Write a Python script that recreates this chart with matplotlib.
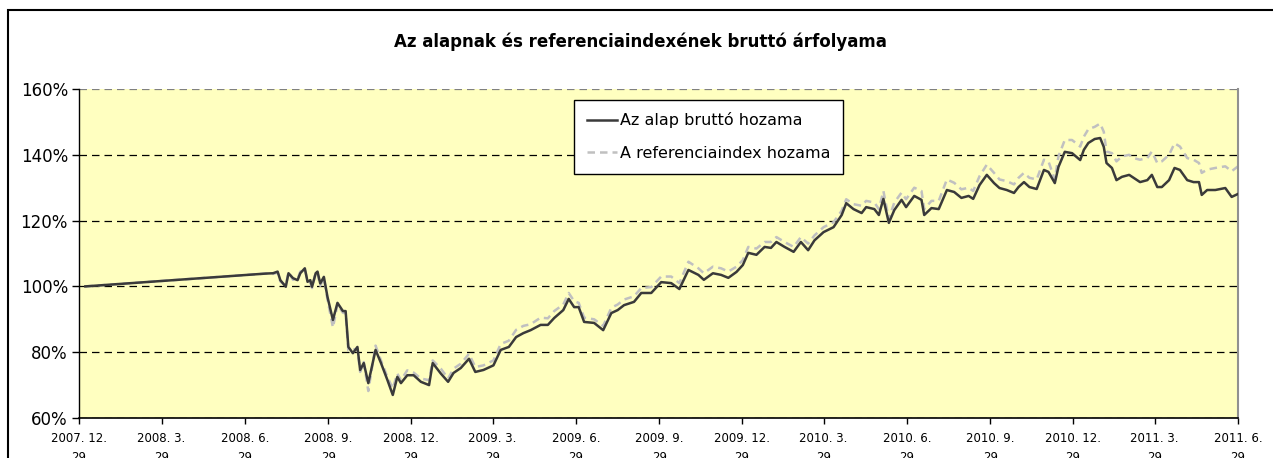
import matplotlib
matplotlib.use("Agg")
import matplotlib.pyplot as plt
from matplotlib.patches import Rectangle
import numpy as np
import pandas as pd


start_date = "2007-12-29"

# days since start date
days = [7, 206, 214, 219, 222, 228, 231, 236, 241, 244, 249, 252, 255, 257, 261, 263, 266, 270,
        274, 280, 285, 291, 294, 297, 302, 307, 310, 314, 319, 327, 333, 340, 346, 351, 355, 362,
        369, 377, 386, 390, 399, 407, 413, 421, 430, 437, 446, 457, 465, 474, 482, 490, 498, 509,
        517, 524, 534, 540, 546, 551, 557, 568, 578, 587, 594, 601, 612, 620, 631, 642, 653, 662,
        672, 683, 689, 699, 708, 716, 725, 732, 738, 747, 756, 763, 769, 778, 788, 796, 804, 811,
        821, 832, 841, 846, 854, 863, 868, 877, 882, 887, 893, 899, 907, 912, 921, 929, 932, 940,
        948, 957, 965, 973, 981, 986, 993, 1001, 1009, 1015, 1023, 1031, 1036, 1042, 1048, 1056,
        1064, 1069, 1076, 1080, 1087, 1095, 1104, 1108, 1113, 1120, 1126, 1130, 1133, 1139, 1144,
        1150, 1158, 1163, 1170, 1178, 1183, 1189, 1194, 1202, 1208, 1214, 1222, 1229, 1235, 1238,
        1244, 1253, 1264, 1271, 1278]

fund = [100.0, 103.9, 104.0, 104.5, 101.9, 99.9, 104.0, 102.5, 101.9, 104.0, 105.5, 101.4, 101.9, 99.9,
        104.0, 104.5, 100.9, 102.9, 96.8, 89.8, 95.0, 92.5, 92.5, 81.6, 79.7, 81.6, 74.6, 76.7,
        70.6, 80.7, 76.7, 71.6, 67.0, 72.5, 70.6, 73.0, 73.0, 71.0, 70.0, 76.7, 73.5, 71.0, 73.7,
        75.2, 78.0, 74.0, 74.6, 76.0, 80.7, 81.6, 84.6, 85.8, 86.7, 88.3, 88.3, 90.4, 92.8, 96.2,
        93.7, 93.7, 89.2, 88.9, 86.7, 91.9, 92.8, 94.3, 95.3, 98.0, 98.0, 101.3, 101.0, 99.2,
        105.0, 103.5, 102.0, 104.0, 103.5, 102.6, 104.4, 106.5, 110.2, 109.6, 112.0, 111.7, 113.5,
        112.0, 110.5, 113.5, 111.0, 114.0, 116.5, 118.0, 121.7, 125.3, 123.5, 122.3, 124.1, 123.5,
        121.7, 126.6, 119.3, 123.2, 126.3, 124.1, 127.5, 126.3, 121.7, 123.8, 123.5, 129.3, 128.7,
        126.9, 127.5, 126.6, 130.8, 133.9, 131.4, 129.9, 129.3, 128.4, 130.2, 131.7, 130.2, 129.6,
        135.4, 134.8, 131.4, 136.3, 140.9, 140.5, 138.4, 141.5, 143.6, 144.8, 145.1, 142.4, 137.5,
        136.0, 132.3, 133.3, 133.9, 133.0, 131.7, 132.3, 133.9, 130.2, 130.2, 132.3, 136.0, 135.4,
        132.3, 131.7, 131.7, 127.8, 129.3, 129.3, 129.9, 127.2, 128.1]

reference = [100.0, 103.9, 103.8, 104.2, 101.5, 100.3, 104.3, 102.0, 102.3, 104.5, 105.2, 101.8, 101.2,
             99.5, 104.3, 104.0, 100.2, 102.5, 96.0, 87.5, 94.5, 92.0, 91.8, 80.5, 80.8, 81.0, 74.0,
             77.0, 68.2, 82.0, 77.5, 72.5, 69.0, 73.5, 71.5, 74.5, 73.8, 72.0, 71.5, 77.5, 75.0,
             72.0, 75.0, 76.5, 79.5, 75.5, 76.0, 77.5, 82.5, 83.5, 86.8, 88.0, 88.5, 90.5, 90.3,
             92.5, 94.5, 98.0, 95.5, 95.0, 90.5, 90.0, 88.0, 93.5, 94.5, 96.0, 97.0, 99.5, 99.8,
             103.0, 103.0, 101.0, 107.5, 105.5, 104.0, 106.0, 105.5, 104.5, 106.0, 108.0, 112.0,
             111.5, 113.5, 113.5, 115.0, 113.5, 112.0, 115.0, 113.0, 115.5, 118.0, 119.5, 123.0,
             126.5, 125.0, 124.5, 126.0, 125.5, 123.5, 129.0, 120.5, 125.5, 128.5, 126.5, 130.0,
             129.0, 123.5, 126.0, 126.0, 132.5, 131.5, 129.5, 130.0, 129.0, 133.5, 137.0, 134.5,
             132.5, 132.0, 131.0, 133.0, 134.5, 133.0, 132.5, 138.5, 138.0, 132.5, 139.5, 144.5,
             144.5, 142.5, 145.5, 147.8, 148.5, 149.5, 147.0, 141.0, 140.5, 138.0, 139.5, 140.0,
             139.0, 138.5, 139.0, 141.0, 137.5, 138.0, 140.0, 143.5, 142.5, 139.0, 138.5, 137.5,
             134.5, 135.5, 136.0, 136.5, 135.0, 136.5]

tick_dates = ["2007-12-29", "2008-03-29", "2008-06-29", "2008-09-29", "2008-12-29",
              "2009-03-29", "2009-06-29", "2009-09-29", "2009-12-29", "2010-03-29",
              "2010-06-29", "2010-09-29", "2010-12-29", "2011-03-29", "2011-06-29"]

title = "Az alapnak és referenciaindexének bruttó árfolyama"
fund_label = "Az alap bruttó hozama"
ref_label = "A referenciaindex hozama"


dates = pd.Timestamp(start_date) + pd.to_timedelta(days, unit="D")
ticks = pd.to_datetime(tick_dates)
tick_labels = [f"{t.year}. {t.month}.\n{t.day}" for t in ticks]

plt.rcParams['font.family'] = ['DejaVu Sans']

fig = plt.figure(figsize=(12.73, 4.58), dpi=100)
fig.patch.set_facecolor('white')

# outer chart frame (runs off the right and bottom edge)
fig.patches.append(Rectangle((8/1273, -0.1), 1.1, 0.1 + 1 - 10/458, transform=fig.transFigure,
                             fill=False, edgecolor='black', linewidth=1.5, clip_on=False))

ax = fig.add_axes([79/1273, 1 - 418/458, (1238 - 79)/1273, (418 - 89)/458])
ax.set_facecolor('#FFFFC0')

ax.plot(dates, reference, color='#C0C0C0', linestyle=(0, (3, 2)), linewidth=1.8, label=ref_label, zorder=2)
ax.plot(dates, fund, color='#3A3A3A', linewidth=1.8, label=fund_label, zorder=3)

ax.set_ylim(60, 160)
ax.set_yticks(np.arange(60, 161, 20))
ax.set_yticklabels([f"{v}%" for v in range(60, 161, 20)], fontsize=12)
ax.set_xlim(ticks[0], ticks[-1])
ax.set_xticks(ticks)
ax.set_xticklabels(tick_labels, fontsize=8.5, linespacing=1.6)

ax.yaxis.grid(True, color='black', linestyle=(0, (6, 4)), linewidth=0.9)
ax.get_ygridlines()[-1].set_color('#808080')
ax.set_axisbelow(True)
ax.tick_params(axis='y', length=5, width=1, pad=3)
ax.tick_params(axis='x', length=4, width=1, pad=6)

ax.spines['top'].set_visible(False)
ax.spines['right'].set_color('#909090')
ax.spines['right'].set_linewidth(1.5)
ax.spines['left'].set_linewidth(1)
ax.spines['bottom'].set_linewidth(1.2)

handles, labels = ax.get_legend_handles_labels()
leg = ax.legend(handles[::-1], labels[::-1], loc='upper left', bbox_to_anchor=(0.427, 0.968),
                fontsize=11.5, frameon=True, fancybox=False, framealpha=1, edgecolor='black',
                handlelength=1.9, handletextpad=0.2, borderpad=0.8, labelspacing=1.1,
                borderaxespad=0)
leg.get_frame().set_linewidth(1)

fig.text(0.503, 1 - 42/458, title, ha='center', va='center', fontsize=12, fontweight='bold')

fig.savefig("out.png", dpi=100)
